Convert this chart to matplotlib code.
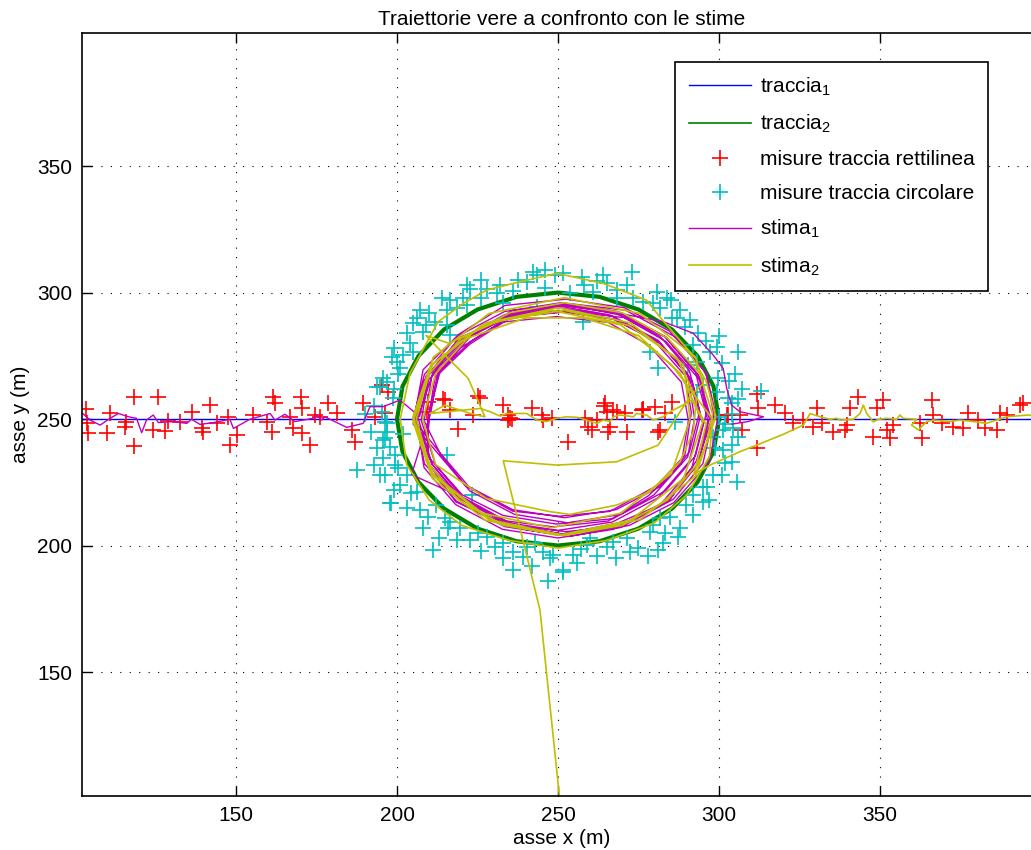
import numpy as np
import matplotlib
matplotlib.use("Agg")
import matplotlib.pyplot as plt
from matplotlib.lines import Line2D

plt.rcParams['font.family'] = ['Liberation Sans', 'DejaVu Sans']
plt.rcParams['mathtext.default'] = 'regular'

title = "Traiettorie vere a confronto con le stime"
xlabel = "asse x (m)"
ylabel = "asse y (m)"
labels = ["traccia$_1$", "traccia$_2$", "misure traccia rettilinea",
          "misure traccia circolare", "stima$_1$", "stima$_2$"]
xticks = [150, 200, 250, 300, 350]
yticks = [150, 200, 250, 300, 350]

# true straight track
traccia1_x = [102, 401]
traccia1_y = [250, 250]

# true circular track
traccia2_x = [300, 298.3, 293.3, 285.4, 275, 262.9, 250, 237.1, 225, 214.6, 206.7, 201.7,
              200, 201.7, 206.7, 214.6, 225, 237.1, 250, 262.9, 275, 285.4, 293.3, 298.3, 300]
traccia2_y = [250, 262.9, 275, 285.4, 293.3, 298.3, 300, 298.3, 293.3, 285.4, 275, 262.9,
              250, 237.1, 225, 214.6, 206.7, 201.7, 200, 201.7, 206.7, 214.6, 225, 237.1, 250]

# measurements of the straight track
misure_rett = [
    (103.4, 253.8), (103.8, 248.5), (104.1, 244.6), (110.9, 252.5), (110.0, 244.6),
    (118.4, 258.8), (118.4, 239.3), (115.5, 246.9), (115.8, 248.9), (125.7, 258.8),
    (124.3, 245.7), (128.0, 245.4), (129.0, 249.3), (132.6, 248.9), (136.2, 252.9),
    (141.9, 255.5), (139.3, 246.3), (139.8, 245.0), (144.2, 248.3), (147.6, 250.9),
    (150.4, 243.6), (148.1, 239.7), (155.4, 251.6), (159.5, 248.9), (161.1, 245.0),
    (161.6, 258.8), (162.1, 256.2), (166.8, 250.9), (167.8, 246.3), (170.2, 258.8),
    (170.4, 254.2), (170.4, 244.3), (173.0, 239.7), (174.5, 251.6), (176.1, 250.9),
    (178.7, 256.2), (181.3, 252.3), (186.0, 245.7), (187.0, 241.0), (189.3, 256.2),
    (195.2, 263.4), (197.3, 260.8), (193.2, 250.9), (196.3, 252.2), (209.7, 256.8),
    (209.2, 252.9), (214.4, 257.8), (215.0, 257.5), (216.5, 253.6), (219.0, 245.9),
    (223.7, 251.6), (225.3, 259.1), (225.8, 258.2), (233.0, 255.5), (234.6, 251.6),
    (235.1, 250.3), (235.6, 249.9), (234.6, 249.6), (241.8, 254.2), (244.9, 251.6),
    (245.4, 249.6), (248.0, 250.3), (253.2, 241.0), (258.4, 250.3), (259.4, 247.0),
    (260.5, 245.6), (262.0, 249.6), (264.3, 255.1), (265.1, 252.9), (266.1, 247.0),
    (265.6, 245.0), (267.2, 253.6), (268.2, 252.9), (270.8, 252.2), (271.3, 245.0),
    (276.5, 253.6), (280.1, 254.9), (281.2, 245.0), (283.2, 252.2), (285.3, 256.9),
    (264.6, 256.2), (276.0, 253.5), (302.4, 251.6), (276.5, 253.8), (281.7, 245.7),
    (302.9, 251.6), (306.5, 251.6), (311.7, 259.9), (312.2, 254.2), (317.4, 255.5),
    (320.5, 252.2), (323.1, 248.3), (326.2, 249.6), (330.3, 254.2), (329.3, 247.0),
    (331.9, 248.3), (335.5, 245.0), (339.6, 247.6), (339.1, 245.7), (340.7, 254.2),
    (343.3, 258.8), (347.9, 243.0), (349.0, 254.2), (351.0, 257.5), (352.1, 245.7),
    (354.1, 247.6), (353.1, 242.4), (362.9, 242.4), (362.4, 248.3), (366.0, 257.5),
    (366.5, 251.6), (369.1, 248.3), (372.8, 247.0), (375.9, 246.3), (377.4, 252.2),
    (380.5, 249.6), (382.6, 246.3), (386.2, 245.7), (387.3, 252.2), (389.3, 251.6),
    (393.5, 255.5), (394.5, 256.2), (311.7, 238.4), (307.0, 245.7),
]

# measurements of the circular track
misure_circ = [
    (242.3, 308.2), (243.4, 306.9), (237.7, 304.9), (240.3, 304.3), (249.1, 306.9),
    (221.6, 303.0), (222.7, 301.6), (227.8, 301.6), (230.9, 299.7), (213.9, 297.7),
    (216.4, 297.0), (220.6, 297.7), (221.6, 295.1), (215.4, 293.1), (218.5, 293.8),
    (206.1, 289.8), (205.1, 287.8), (203.0, 283.9), (208.2, 284.5), (211.8, 288.5),
    (215.4, 287.2), (216.5, 283.2), (202.0, 275.3), (199.9, 272.7), (198.3, 274.6),
    (205.1, 276.6), (200.9, 270.0), (200.4, 268.0), (195.7, 266.1), (193.7, 262.8),
    (196.8, 264.8), (198.9, 258.2), (195.2, 252.9), (196.3, 248.9), (243.4, 294.4),
    (233.0, 296.0), (236.0, 300.5), (226.0, 298.0), (210.0, 292.0), (194.7, 262.6),
    (251.6, 307.6), (257.3, 306.3), (272.9, 308.2), (265.1, 303.6), (271.3, 303.0),
    (268.2, 301.0), (280.6, 300.3), (261.0, 300.3), (253.7, 299.7), (276.5, 296.4),
    (279.6, 295.7), (273.4, 297.7), (268.2, 297.7), (257.9, 288.5), (281.7, 293.7),
    (289.4, 286.5), (293.6, 283.9), (292.0, 279.3), (299.3, 278.6), (297.2, 276.6),
    (278.6, 276.6), (281.2, 270.0), (293.1, 272.7), (290.5, 271.3), (299.8, 266.1),
    (295.1, 263.4), (302.9, 258.2), (303.9, 256.2), (293.1, 260.8), (299.3, 260.8),
    (306.0, 276.6), (285.5, 290.0), (288.0, 293.0), (262.0, 304.5), (246.0, 302.0),
    (196.8, 248.3), (196.3, 242.4), (193.7, 238.4), (197.8, 239.1), (195.8, 234.5),
    (199.4, 235.8), (194.7, 227.9), (196.3, 227.9), (200.4, 230.5), (203.0, 227.9),
    (197.8, 216.7), (204.5, 220.6), (206.1, 221.3), (209.7, 211.4), (215.4, 235.8),
    (214.9, 210.7), (216.5, 209.4), (215.9, 206.8), (219.6, 206.8), (218.5, 202.2),
    (222.7, 202.2), (211.3, 198.2), (230.4, 199.5), (233.0, 200.9), (236.1, 197.6),
    (239.2, 195.6), (236.1, 190.3), (245.4, 197.6), (247.5, 194.9), (223.2, 220.0),
    (199.4, 231.8), (187.6, 229.8), (198.1, 216.8), (202.0, 244.0), (201.0, 224.0),
    (207.0, 214.0), (195.6, 241.7), (225.0, 205.0), (228.0, 203.5), (212.0, 216.0),
    (248.5, 196.3), (251.6, 190.3), (254.8, 196.3), (258.9, 200.2), (265.1, 199.5),
    (267.2, 201.5), (272.4, 197.6), (274.9, 198.9), (271.3, 202.8), (281.2, 198.2),
    (282.7, 200.9), (283.2, 204.8), (287.4, 203.5), (278.6, 205.5), (279.6, 208.1),
    (281.7, 210.7), (284.8, 211.4), (289.9, 216.0), (292.0, 220.0), (295.1, 217.3),
    (296.2, 223.3), (298.2, 227.9), (295.1, 223.3), (301.9, 232.5), (301.3, 237.7),
    (303.9, 239.7), (305.5, 225.2), (298.7, 238.4), (301.3, 245.6), (304.4, 246.3),
    (286.3, 249.0), (251.6, 189.6), (260.0, 203.0), (243.0, 201.0), (262.0, 196.0),
    (300.0, 251.0), (302.0, 248.0), (298.0, 243.0), (257.0, 198.5), (240.5, 199.5),
    (232.0, 303.0), (246.0, 309.0), (258.0, 303.0), (264.0, 307.0), (285.0, 297.0),
    (226.0, 305.0), (209.0, 287.0), (204.0, 280.0), (199.0, 278.0), (207.0, 293.0),
    (193.0, 255.0), (197.0, 245.0), (192.0, 245.0), (199.0, 262.0), (190.0, 252.0),
    (199.0, 222.0), (203.0, 215.0), (208.0, 207.0), (213.0, 203.0), (193.0, 232.0),
    (226.0, 198.0), (233.0, 195.0), (242.0, 192.0), (256.0, 193.0), (268.0, 195.0),
    (278.0, 196.0), (247.0, 186.0), (288.0, 207.0), (292.0, 212.0), (297.0, 218.0),
    (301.0, 228.0), (304.0, 233.0), (306.0, 243.0), (304.0, 252.0), (306.0, 258.0),
    (303.0, 265.0), (307.0, 262.0), (301.0, 272.0), (305.0, 268.0), (287.0, 290.0),
    (291.0, 289.0), (296.0, 281.0), (300.0, 283.0), (284.0, 298.0), (313.0, 261.0),
]

# estimate 1
stima1 = [
    (102.4, 252.2), (104.7, 249.6), (107.8, 247.6), (110.9, 250.3), (113.5, 252.2),
    (116.6, 250.9), (119.1, 250.3), (120.7, 244.6), (122.2, 249.6), (124.3, 251.6),
    (125.9, 248.6), (130.5, 249.0), (134.7, 248.3), (136.2, 249.9), (138.8, 247.9),
    (143.0, 248.6), (148.1, 249.9), (149.2, 246.3), (154.3, 249.9), (160.6, 252.2),
    (162.1, 249.6), (165.2, 251.9), (168.3, 249.0), (174.0, 250.3), (175.0, 251.6),
    (176.6, 249.6), (177.6, 250.9), (184.4, 246.7), (189.5, 248.3), (191.6, 254.9),
    (195.7, 254.9), (200.9, 257.5),
    (207.0, 251.0), (210.0, 267.8), (220.7, 281.2), (235.3, 292.0), (252.0, 295.5),
    (269.8, 291.0), (283.2, 282.5), (294.1, 266.5), (296.5, 249.0), (293.0, 233.5),
    (284.5, 217.6), (268.6, 208.9), (251.4, 204.6), (235.5, 207.9), (219.8, 218.9),
    (210.9, 232.2),
    (206.5, 250.5), (210.8, 266.9), (219.1, 282.0), (234.1, 290.2), (250.6, 294.6),
    (266.0, 291.2), (281.0, 280.8), (290.2, 268.1), (292.4, 250.4), (290.3, 235.1),
    (279.8, 220.0), (267.1, 210.6), (249.4, 208.5), (232.9, 211.9), (220.3, 220.0),
    (209.7, 235.1),
    (209.5, 248.5), (211.8, 266.4), (222.5, 279.5), (235.6, 290.3), (253.6, 292.5),
    (270.5, 290.1), (283.5, 280.7), (294.2, 265.2), (297.6, 249.6), (293.1, 231.6),
    (284.7, 218.4), (269.3, 207.7), (252.4, 205.5), (236.7, 207.8), (221.3, 218.5),
    (204.5, 228.0),
    (210.5, 252.5), (212.6, 268.2), (222.6, 280.4), (234.8, 290.4), (251.5, 292.4),
    (267.3, 289.4), (279.4, 281.6), (289.5, 267.1), (291.4, 252.6), (289.4, 235.7),
    (280.6, 223.6), (266.1, 213.5), (250.4, 211.6), (235.9, 213.6), (221.4, 223.5),
    (213.6, 235.8),
    (208.4, 249.4), (211.0, 268.1), (222.0, 281.9), (235.9, 293.0), (254.5, 295.5),
    (271.0, 293.0), (287.1, 282.0), (296.0, 268.2), (299.5, 249.3), (297.0, 233.0),
    (285.9, 216.9), (272.2, 208.0), (253.5, 203.6), (236.9, 207.0), (220.9, 218.1),
    (212.0, 231.8),
    (207.5, 249.5), (209.8, 265.6), (219.8, 278.2), (232.4, 288.3), (249.5, 290.5),
    (265.6, 288.2), (278.2, 279.2), (288.3, 264.6), (290.5, 249.5), (288.3, 232.4),
    (278.2, 219.8), (265.6, 209.7), (248.5, 207.4), (233.4, 209.8), (218.8, 219.8),
    (210.7, 232.4),
    (205.5, 251.5), (208.1, 269.5), (219.3, 283.6), (233.5, 294.9), (252.5, 297.4),
    (270.6, 294.0), (284.6, 284.8), (295.9, 268.4), (298.4, 251.6), (295.0, 232.4),
    (285.8, 218.3), (269.4, 207.1), (251.5, 204.5), (234.6, 208.1), (218.2, 217.3),
    (209.1, 233.6),
    (210.0, 252.0), (213.3, 268.5), (222.6, 282.4), (236.5, 291.7), (253.0, 295.0),
    (269.5, 291.7), (283.4, 282.4), (292.7, 268.5), (296.0, 252.0), (292.7, 235.5),
    (283.4, 221.6), (269.5, 212.3), (253.0, 209.0), (236.5, 212.3), (222.6, 221.6),
    (213.3, 235.5),
    (205.0, 248.0), (208.4, 265.2), (218.2, 279.8), (232.8, 289.6), (250.0, 293.0),
    (267.2, 289.6), (281.8, 279.8), (291.6, 265.2), (295.0, 248.0), (291.6, 230.8),
    (281.8, 216.2), (267.2, 206.4), (250.0, 203.0), (232.8, 206.4), (218.2, 216.2),
    (208.4, 230.8),
    (206.0, 250.0), (209.3, 266.9), (218.9, 281.1), (233.1, 290.7), (250.0, 294.0),
    (266.9, 290.7), (281.1, 281.1), (290.7, 266.9), (294.0, 250.0), (290.7, 233.1),
    (281.1, 218.9), (266.9, 209.3), (250.0, 206.0), (233.1, 209.3), (218.9, 218.9),
    (209.3, 233.1),
    (210.0, 253.0), (213.2, 269.1), (222.3, 282.7), (235.9, 291.8), (252.0, 295.0),
    (268.1, 291.8), (281.7, 282.7), (290.8, 269.1), (294.0, 253.0), (290.8, 236.9),
    (281.7, 223.3), (268.1, 214.2), (252.0, 211.0), (235.9, 214.2), (222.3, 223.3),
    (213.2, 236.9),
    (205.0, 250.0), (208.5, 267.6), (218.5, 282.5), (233.4, 292.5), (251.0, 296.0),
    (268.6, 292.5), (283.5, 282.5), (293.5, 267.6), (297.0, 250.0), (293.5, 232.4),
    (283.5, 217.5), (268.6, 207.5), (251.0, 204.0), (233.4, 207.5), (218.5, 217.5),
    (208.5, 232.4),
    (206.0, 250.0), (209.0, 267.0), (219.0, 281.0), (233.0, 291.0), (251.0, 295.0),
    (268.0, 292.0), (282.7, 288.5), (292.0, 283.9), (298.2, 275.3), (301.3, 270.0),
    (302.4, 262.1), (303.9, 255.5), (306.5, 252.9), (313.8, 250.9), (309.0, 249.0),
    (304.0, 248.0),
]

# estimate 2
stima2 = [
    (252.8, 40.0), (250.6, 99.0), (244.4, 174.5), (239.1, 202.2), (233.0, 233.5),
    (249.6, 231.8), (268.2, 233.1), (281.1, 239.7), (291.0, 258.8), (295.1, 264.1),
    (292.7, 274.5), (275.5, 291.7), (252.0, 298.0), (228.5, 291.7), (211.3, 274.5),
    (205.0, 251.0), (211.3, 227.5), (228.5, 210.3), (252.0, 204.0), (275.5, 210.3),
    (292.7, 227.5), (299.0, 251.0),
    (296.0, 265.0), (290.0, 278.0), (281.6, 290.4), (277.5, 297.0), (264.1, 303.6),
    (249.6, 307.6), (236.1, 303.6), (227.9, 301.0), (220.6, 295.7), (212.8, 288.5),
    (204.0, 268.0), (201.0, 250.0), (203.0, 232.0), (210.0, 218.0), (220.0, 208.0),
    (235.0, 202.0), (250.0, 199.0), (265.0, 202.0), (280.0, 209.0), (290.0, 220.0),
    (297.0, 235.0), (298.0, 250.0),
    (285.2, 271.5), (269.5, 287.2), (248.0, 293.0), (226.5, 287.2), (210.8, 271.5),
    (205.0, 250.0), (210.8, 228.5), (226.5, 212.8), (248.0, 207.0), (269.5, 212.8),
    (285.2, 228.5), (291.0, 250.0),
    (289.0, 271.5), (272.5, 288.0), (250.0, 294.0), (227.5, 288.0), (211.0, 271.5),
    (205.0, 249.0), (211.0, 226.5), (227.5, 210.0), (250.0, 204.0), (272.5, 210.0),
    (289.0, 226.5), (295.0, 249.0),
    (288.0, 268.0), (275.0, 283.0), (258.0, 290.0), (240.0, 290.0), (222.0, 282.0),
    (212.0, 268.0), (208.0, 250.0), (212.0, 232.0), (227.8, 218.6), (247.5, 213.4),
    (253.7, 212.3), (268.2, 216.0), (278.6, 221.3), (287.9, 233.1), (292.0, 245.0),
    (293.0, 258.0), (287.0, 274.0), (272.0, 287.0), (252.0, 293.0), (232.0, 289.0),
    (216.0, 280.0), (209.0, 283.0), (215.4, 274.6), (222.1, 266.1), (227.3, 250.9),
    (222.7, 252.2), (214.9, 255.5), (210.2, 252.2), (225.8, 254.2), (228.9, 252.9),
    (232.0, 251.2), (234.1, 252.2), (240.3, 252.2), (243.4, 249.6), (246.5, 249.0),
    (249.6, 250.3), (252.7, 250.9), (255.8, 250.7), (258.9, 249.6), (262.0, 248.3),
    (264.1, 249.6), (266.1, 249.0), (267.2, 250.9), (269.3, 251.6), (273.4, 250.9),
    (274.4, 252.2), (277.5, 251.6), (279.6, 249.6), (282.7, 250.9), (284.8, 252.9),
    (287.9, 254.9), (291.5, 257.5),
    (296.0, 248.0), (293.0, 232.0), (284.0, 218.0), (270.0, 208.0), (252.0, 204.0),
    (233.0, 208.0), (219.0, 218.0), (210.0, 232.0), (206.0, 250.0), (210.0, 268.0),
    (220.0, 282.0), (235.0, 292.0), (252.0, 296.0), (270.0, 292.0), (284.0, 282.0),
    (294.0, 268.0), (298.0, 252.0), (296.0, 240.0), (292.0, 228.0), (297.2, 231.8),
    (306.5, 237.1), (311.7, 239.7), (320.0, 244.0), (326.2, 247.6),
    (328.3, 252.2), (331.4, 250.9), (334.5, 249.9), (336.5, 250.3), (337.6, 249.6),
    (341.7, 249.9), (343.8, 252.2), (344.8, 255.5), (345.9, 252.2), (347.9, 248.9),
    (349.5, 249.9), (352.1, 250.3), (355.2, 249.9), (356.2, 251.6), (357.2, 250.3),
    (361.4, 249.9), (359.8, 247.6), (361.9, 245.7), (364.5, 249.0), (366.6, 249.6),
    (371.7, 249.0), (374.8, 249.6), (379.0, 249.0), (383.1, 248.3), (386.2, 249.6),
    (389.3, 250.9), (396.1, 251.6), (401.0, 250.5),
]

C_BLUE = (0, 0, 1)
C_GREEN = (0, 0.5, 0)
C_RED = (1, 0, 0)
C_CYAN = (0, 0.75, 0.75)
C_MAG = (0.75, 0, 0.75)
C_YEL = (0.75, 0.75, 0)

fig = plt.figure(figsize=(10.31, 8.5), dpi=100)
ax = fig.add_axes([82 / 1031, 1 - 796 / 850, (1041 - 82) / 1031, (796 - 33) / 850])

mr = np.array(misure_rett)
mc = np.array(misure_circ)
s1 = np.array(stima1)
s2 = np.array(stima2)

h1, = ax.plot(traccia1_x, traccia1_y, color=C_BLUE, lw=1.0)
ax.plot(traccia2_x, traccia2_y, color=C_GREEN, lw=3.0)
h3, = ax.plot(mr[:, 0], mr[:, 1], '+', color=C_RED, ms=11, mew=1.2, ls='none')
h4, = ax.plot(mc[:, 0], mc[:, 1], '+', color=C_CYAN, ms=11, mew=1.2, ls='none')
h5, = ax.plot(s1[:, 0], s1[:, 1], color=C_MAG, lw=1.0)
h6, = ax.plot(s2[:, 0], s2[:, 1], color=C_YEL, lw=1.2)
h2 = Line2D([], [], color=C_GREEN, lw=1.2)

ax.set_xlim(102.17, 400)
ax.set_ylim(101.0, 402.6)
ax.set_xticks(xticks)
ax.set_yticks(yticks)
ax.grid(True, color='k', linestyle=(0, (1, 7.5)), linewidth=0.8)
ax.tick_params(direction='in', top=True, right=True, length=7, width=1,
               labelsize=15, pad=7)
for sp in ax.spines.values():
    sp.set_linewidth(1.2)

ax.set_title(title, fontsize=15, pad=6)
ax.set_xlabel(xlabel, fontsize=15, labelpad=3)
ax.set_ylabel(ylabel, fontsize=15, labelpad=5)

leg = ax.legend([h1, h2, h3, h4, h5, h6], labels, loc='upper right',
                bbox_to_anchor=(988 / 1031, 1 - 62 / 850),
                bbox_transform=fig.transFigure, fontsize=15, numpoints=1,
                handlelength=3.0, handletextpad=0.4, labelspacing=0.72,
                borderpad=0.65, borderaxespad=0, fancybox=False, framealpha=1,
                edgecolor='k')
leg.get_frame().set_linewidth(1.2)

fig.savefig('out.png', dpi=100)
